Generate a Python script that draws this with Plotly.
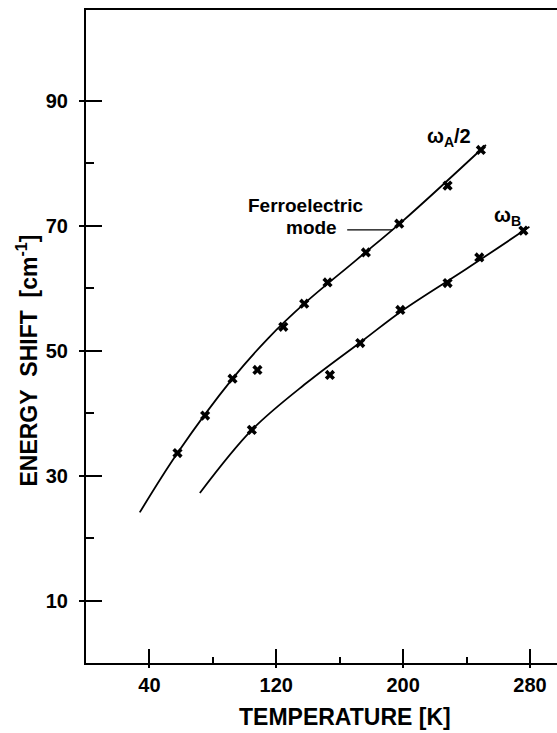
import plotly.graph_objects as go

# ---- data ----
# omega_A/2 (ferroelectric mode) measured points
a_temp = [57.7, 75.1, 92.4, 108.1, 124.4, 137.6, 152.3, 176.5, 197.5, 228.0, 249.0]
a_shift = [33.6, 39.6, 45.5, 46.9, 53.8, 57.5, 60.9, 65.7, 70.3, 76.4, 82.1]
# omega_B measured points
b_temp = [104.6, 153.8, 172.9, 198.2, 228.0, 248.0, 275.8]
b_shift = [37.3, 46.1, 51.2, 56.5, 60.8, 64.9, 69.2]
# drawn smooth curves
a_curve_t = [33.9, 57.7, 92.4, 115.0, 137.6, 170.0, 200.0, 252.2]
a_curve_e = [24.1, 33.6, 45.5, 52.0, 57.5, 64.4, 70.8, 82.9]
b_curve_t = [71.8, 104.6, 140.0, 175.0, 200.0, 240.0, 279.6]
b_curve_e = [27.2, 37.3, 45.0, 51.7, 56.5, 63.1, 69.8]

x_ticks = [40, 120, 200, 280]
x_minor = [80, 160, 240]
y_ticks = [10, 30, 50, 70, 90]
y_minor = [20, 40, 60, 80]
x_range = [0, 297]
y_range = [0, 104.5]

FONT = "Liberation Sans"
fig = go.Figure()

line_style = dict(color="black", width=1.8, shape="spline", smoothing=1.0)
fig.add_trace(go.Scatter(x=a_curve_t, y=a_curve_e, mode="lines", line=line_style, hoverinfo="skip"))
fig.add_trace(go.Scatter(x=b_curve_t, y=b_curve_e, mode="lines", line=line_style, hoverinfo="skip"))
mk = dict(symbol="x", size=9, color="black", line=dict(width=0))
fig.add_trace(go.Scatter(x=a_temp, y=a_shift, mode="markers", marker=mk))
fig.add_trace(go.Scatter(x=b_temp, y=b_shift, mode="markers", marker=mk))
# invisible trace to anchor the overlay axes (outer halves of the ticks)
fig.add_trace(go.Scatter(x=[x_ticks[0]], y=[y_ticks[0]], xaxis="x2", yaxis="y2",
                         mode="markers", marker=dict(opacity=0), hoverinfo="skip"))

tickfont = dict(family=FONT, size=20, color="black", weight="bold")
fig.update_layout(
    width=557, height=733,
    margin=dict(l=86, r=0, t=10, b=70),
    paper_bgcolor="white", plot_bgcolor="white",
    showlegend=False,
    xaxis=dict(range=x_range, tickmode="array", tickvals=x_ticks, ticks="inside",
               ticklen=14, tickwidth=2, tickcolor="black", showline=True, linewidth=2,
               linecolor="black", mirror=True, showgrid=False, zeroline=False,
               tickfont=tickfont, ticklabelstandoff=3,
               minor=dict(tickmode="array", tickvals=x_minor, ticks="inside", ticklen=6,
                          tickwidth=2, tickcolor="black")),
    yaxis=dict(range=y_range, tickmode="array", tickvals=y_ticks, ticks="inside",
               ticklen=16, tickwidth=2, tickcolor="black", showline=True, linewidth=2,
               linecolor="black", mirror=False, showgrid=False, zeroline=False,
               tickfont=tickfont, ticklabelstandoff=12,
               minor=dict(tickmode="array", tickvals=y_minor, ticks="inside", ticklen=8,
                          tickwidth=2, tickcolor="black")),
    xaxis2=dict(range=x_range, overlaying="x", anchor="y2", side="bottom", tickmode="array",
                tickvals=x_ticks, ticks="outside", ticklen=4, tickwidth=2, tickcolor="black",
                showticklabels=False, showline=False, showgrid=False, zeroline=False),
    yaxis2=dict(range=y_range, overlaying="y", anchor="x2", side="left", tickmode="array",
                tickvals=y_ticks, ticks="outside", ticklen=6, tickwidth=2, tickcolor="black",
                showticklabels=False, showline=False, showgrid=False, zeroline=False),
)

title_font = dict(family=FONT, size=23, color="black", weight="bold")
fig.add_annotation(text="TEMPERATURE [K]", xref="x", x=163.5, yref="paper", y=0,
                   yanchor="middle", yshift=-54, showarrow=False, font=title_font)
fig.add_annotation(text="ENERGY\u00a0 SHIFT\u00a0 [cm<sup>-1</sup>]", textangle=-90,
                   xref="paper", x=0, xanchor="center", xshift=-59, yref="y", y=48.4,
                   showarrow=False, font=title_font)

lab_font = dict(family=FONT, size=20, color="black", weight="bold")
fig.add_annotation(text="ω<sub>A</sub>/2", x=229.1, y=84.1, showarrow=False, font=lab_font)
fig.add_annotation(text="ω<sub>B</sub>", x=266, y=71.5, showarrow=False, font=lab_font)
fe_font = dict(family=FONT, size=19, color="black", weight="bold")
fig.add_annotation(text="Ferroelectric", x=138.9, y=73.2, showarrow=False, font=fe_font)
fig.add_annotation(text="mode", x=142.5, y=69.7, showarrow=False, font=fe_font)
fig.add_shape(type="line", xref="x", yref="y", x0=164.7, x1=193.3, y0=69.3, y1=69.3,
              line=dict(color="black", width=1.2))

fig.write_html("out.html")
